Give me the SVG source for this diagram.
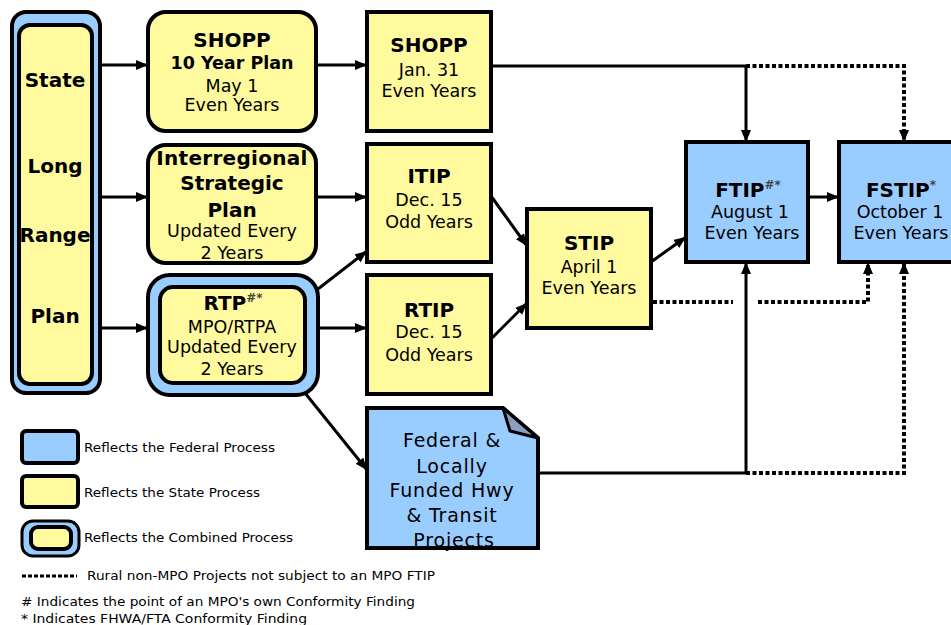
<svg xmlns="http://www.w3.org/2000/svg" width="951" height="625" viewBox="0 0 951 625">
<defs>
<marker id="ah" markerUnits="userSpaceOnUse" markerWidth="12" markerHeight="10" refX="12" refY="5" orient="auto">
<path d="M0,0 L12,5 L0,10 z" fill="#000"/>
</marker>
<style>
.y{fill:#FFFA9E;stroke:#000;stroke-width:4}
.b{fill:#99CCFF;stroke:#000;stroke-width:4}
.t{font-family:"DejaVu Sans",Verdana,sans-serif;fill:#000;text-anchor:middle}
.h{font-weight:bold;font-size:20px}
.n{font-size:17.5px}
.c{stroke:#000;stroke-width:3;fill:none}
.d{stroke:#000;stroke-width:4;fill:none;stroke-dasharray:4 2.5}
.lg{font-family:"DejaVu Sans",Verdana,sans-serif;fill:#000;font-size:12.5px}
.sup{font-size:12px;fill:#444}
</style>
</defs>
<rect width="951" height="625" fill="#fff"/>

<g id="connectors">
<line class="c" x1="100" y1="65" x2="148" y2="65" marker-end="url(#ah)"/>
<line class="c" x1="100" y1="197" x2="148" y2="197" marker-end="url(#ah)"/>
<line class="c" x1="100" y1="328" x2="148" y2="328" marker-end="url(#ah)"/>
<line class="c" x1="316" y1="65" x2="367" y2="65" marker-end="url(#ah)"/>
<line class="c" x1="316" y1="197" x2="367" y2="197" marker-end="url(#ah)"/>
<line class="c" x1="318" y1="289" x2="367" y2="251" marker-end="url(#ah)"/>
<line class="c" x1="318" y1="328" x2="367" y2="328" marker-end="url(#ah)"/>
<line class="c" x1="305" y1="393" x2="367" y2="470" marker-end="url(#ah)"/>
<line class="c" x1="491" y1="196" x2="527" y2="246" marker-end="url(#ah)"/>
<line class="c" x1="491" y1="339" x2="527" y2="303" marker-end="url(#ah)"/>
<line class="c" x1="651" y1="262" x2="686" y2="237" marker-end="url(#ah)"/>
<line class="c" x1="808" y1="197" x2="839" y2="197" marker-end="url(#ah)"/>
<polyline class="c" points="491,66 746,66 746,142" marker-end="url(#ah)"/>
<polyline class="d" points="746,66 904,66 904,142" marker-end="url(#ah)"/>
<polyline class="c" points="538,473 746,473 746,262" marker-end="url(#ah)"/>
<polyline class="d" points="746,473 904,473 904,262" marker-end="url(#ah)"/>
<line class="d" x1="653" y1="302" x2="733" y2="302"/>
<polyline class="d" points="758,302 868,302 868,262" marker-end="url(#ah)"/>
</g>

<g id="state-long-range-plan">
<rect x="12" y="12" width="88" height="381" rx="14" class="b"/>
<rect x="19" y="25" width="73" height="359" rx="11" class="y"/>
<text class="t h" x="55" y="87">State</text>
<text class="t h" x="55" y="173">Long</text>
<text class="t h" x="55" y="242">Range</text>
<text class="t h" x="55" y="323">Plan</text>
</g>

<g id="shopp-10-year-plan">
<rect x="148" y="12" width="168" height="119" rx="18" class="y"/>
<text class="t h" x="232" y="47">SHOPP</text>
<text class="t" x="232" y="69" font-weight="bold" font-size="17.5px">10 Year Plan</text>
<text class="t n" x="232" y="92">May 1</text>
<text class="t n" x="232" y="111">Even Years</text>
</g>

<g id="interregional-strategic-plan">
<rect x="148" y="145" width="168" height="118" rx="18" class="y"/>
<text class="t h" x="232" y="165" letter-spacing="0.3">Interregional</text>
<text class="t h" x="232" y="190">Strategic</text>
<text class="t h" x="232" y="217">Plan</text>
<text class="t n" x="232" y="237">Updated Every</text>
<text class="t n" x="232" y="259">2 Years</text>
</g>

<g id="rtp">
<rect x="148" y="275" width="170" height="120" rx="22" class="b"/>
<rect x="160" y="287" width="145" height="96" rx="13" class="y"/>
<text class="t h" x="233" y="310">RTP<tspan class="sup" dy="-8">#*</tspan></text>
<text class="t n" x="232" y="333">MPO/RTPA</text>
<text class="t n" x="232" y="353">Updated Every</text>
<text class="t n" x="232" y="375">2 Years</text>
</g>

<g id="shopp">
<rect x="367" y="12" width="124" height="119" class="y"/>
<text class="t h" x="429" y="52">SHOPP</text>
<text class="t n" x="429" y="76">Jan. 31</text>
<text class="t n" x="429" y="97">Even Years</text>
</g>

<g id="itip">
<rect x="367" y="144" width="124" height="118" class="y"/>
<text class="t h" x="429" y="183">ITIP</text>
<text class="t n" x="429" y="206">Dec. 15</text>
<text class="t n" x="429" y="228">Odd Years</text>
</g>

<g id="rtip">
<rect x="367" y="275" width="124" height="119" class="y"/>
<text class="t h" x="429" y="317">RTIP</text>
<text class="t n" x="429" y="338">Dec. 15</text>
<text class="t n" x="429" y="361">Odd Years</text>
</g>

<g id="stip">
<rect x="527" y="209" width="124" height="119" class="y"/>
<text class="t h" x="589" y="250">STIP</text>
<text class="t n" x="589" y="273">April 1</text>
<text class="t n" x="589" y="294">Even Years</text>
</g>

<g id="ftip">
<rect x="686" y="142" width="122" height="120" class="b"/>
<text class="t h" x="748" y="197">FTIP<tspan class="sup" dy="-8">#*</tspan></text>
<text class="t n" x="750" y="218">August 1</text>
<text class="t n" x="752" y="239">Even Years</text>
</g>

<g id="fstip">
<rect x="839" y="142" width="124" height="120" class="b"/>
<text class="t h" x="901" y="197">FSTIP<tspan class="sup" dy="-8">*</tspan></text>
<text class="t n" x="900" y="218">October 1</text>
<text class="t n" x="901" y="239">Even Years</text>
</g>

<g id="federal-locally-funded">
<path d="M367,408 L503,408 L538,438 L538,548 L367,548 Z" class="b"/>
<path d="M503,408 L510,431 L538,438 Z" fill="#8A9FC0" stroke="#000" stroke-width="3" stroke-linejoin="round"/>
<text class="t" x="452" y="447" font-size="19px" letter-spacing="0.8">Federal &amp;</text>
<text class="t" x="452" y="473" font-size="19px" letter-spacing="0.8">Locally</text>
<text class="t" x="452" y="497" font-size="19px" letter-spacing="0.8">Funded Hwy</text>
<text class="t" x="452" y="522" font-size="19px" letter-spacing="0.8">&amp; Transit</text>
<text class="t" x="454" y="547" font-size="19px" letter-spacing="0.8">Projects</text>
</g>

<g id="legend">
<rect x="22" y="431" width="56" height="32" rx="4" class="b"/>
<text class="lg" x="84" y="452" textLength="191" lengthAdjust="spacingAndGlyphs">Reflects the Federal Process</text>
<rect x="22" y="476" width="56" height="31" rx="4" class="y"/>
<text class="lg" x="84" y="497" textLength="176" lengthAdjust="spacingAndGlyphs">Reflects the State Process</text>
<rect x="22" y="521" width="57" height="35" rx="11" fill="#99CCFF" stroke="#000" stroke-width="3"/>
<rect x="31" y="527" width="40" height="22" rx="7" class="y"/>
<text class="lg" x="84" y="542" textLength="209" lengthAdjust="spacingAndGlyphs">Reflects the Combined Process</text>
<line x1="22" y1="576" x2="77" y2="576" stroke="#000" stroke-width="3" stroke-dasharray="4 2"/>
<text class="lg" x="87" y="580" font-size="13px" textLength="348" lengthAdjust="spacingAndGlyphs">Rural non-MPO Projects not subject to an MPO FTIP</text>
<text class="lg" x="21" y="606" font-size="13px" textLength="394" lengthAdjust="spacingAndGlyphs"># Indicates the point of an MPO's own Conformity Finding</text>
<text class="lg" x="21" y="623" font-size="13px" textLength="286" lengthAdjust="spacingAndGlyphs">* Indicates FHWA/FTA Conformity Finding</text>
</g>
</svg>
